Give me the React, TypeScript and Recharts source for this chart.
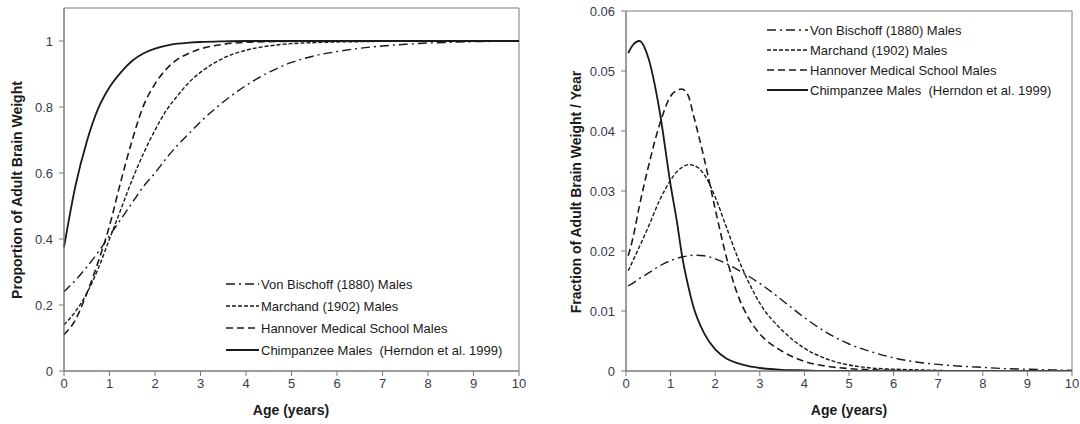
import React from "react";
import { LineChart, Line, XAxis, YAxis, ReferenceArea, Legend } from "recharts";

// ---------- Left chart: cumulative proportion of adult brain weight ----------
const agesLeft = [0, 0.25, 0.5, 0.75, 1, 1.25, 1.5, 1.75, 2, 2.25, 2.5, 2.75, 3, 3.5, 4, 4.5, 5, 5.5, 6, 6.5, 7, 7.5, 8, 8.5, 9, 9.5, 10];
const vonBischoffLeft = [0.24, 0.275, 0.315, 0.36, 0.41, 0.46, 0.51, 0.56, 0.6, 0.645, 0.685, 0.72, 0.755, 0.815, 0.865, 0.905, 0.935, 0.955, 0.968, 0.978, 0.985, 0.99, 0.994, 0.996, 0.998, 0.999, 1.0];
const marchandLeft = [0.14, 0.18, 0.235, 0.31, 0.4, 0.49, 0.58, 0.66, 0.73, 0.79, 0.835, 0.875, 0.905, 0.948, 0.972, 0.985, 0.992, 0.995, 0.997, 0.998, 0.999, 1, 1, 1, 1, 1, 1];
const hannoverLeft = [0.11, 0.155, 0.235, 0.33, 0.44, 0.575, 0.7, 0.805, 0.87, 0.915, 0.945, 0.963, 0.976, 0.99, 0.996, 0.998, 0.999, 1, 1, 1, 1, 1, 1, 1, 1, 1, 1];
const chimpLeft = [0.375, 0.56, 0.695, 0.795, 0.86, 0.905, 0.94, 0.963, 0.977, 0.986, 0.992, 0.995, 0.997, 0.999, 1, 1, 1, 1, 1, 1, 1, 1, 1, 1, 1, 1, 1];

// ---------- Right chart: fraction of adult brain weight per year ----------
const agesRight = [0.05, 0.15, 0.3, 0.5, 0.75, 1, 1.15, 1.25, 1.4, 1.5, 1.75, 2, 2.25, 2.5, 2.75, 3, 3.5, 4, 4.5, 5, 5.5, 6, 6.5, 7, 7.5, 8, 8.5, 9, 9.5, 10];
const vonBischoffRight = [0.0142, 0.0146, 0.0154, 0.0163, 0.0175, 0.0184, 0.0188, 0.019, 0.0192, 0.0193, 0.0192, 0.0187, 0.0179, 0.0169, 0.0158, 0.0146, 0.0118, 0.0089, 0.0064, 0.0045, 0.0032, 0.0022, 0.0015, 0.0011, 0.0008, 0.0006, 0.0004, 0.0003, 0.0002, 0.0001];
const marchandRight = [0.0167, 0.0183, 0.0207, 0.024, 0.0284, 0.0318, 0.0333, 0.0339, 0.0344, 0.0343, 0.0328, 0.029, 0.024, 0.019, 0.0148, 0.0113, 0.0068, 0.0038, 0.002, 0.001, 0.0005, 0.0003, 0.0002, 0.0001, 0, 0, 0, 0, 0, 0];
const hannoverRight = [0.0192, 0.022, 0.0275, 0.034, 0.041, 0.0458, 0.0468, 0.047, 0.0458, 0.043, 0.0355, 0.027, 0.019, 0.0128, 0.0088, 0.0062, 0.0033, 0.0016, 0.0008, 0.0004, 0.0002, 0.0001, 0, 0, 0, 0, 0, 0, 0, 0];
const chimpRight = [0.053, 0.0543, 0.055, 0.0522, 0.0435, 0.031, 0.0245, 0.0195, 0.014, 0.011, 0.0063, 0.0036, 0.0021, 0.0013, 0.0008, 0.0005, 0.0002, 0.0001, 0, 0, 0, 0, 0, 0, 0, 0, 0, 0, 0, 0];

const xTicks = [0, 1, 2, 3, 4, 5, 6, 7, 8, 9, 10];
const yTicksLeft = [0, 0.2, 0.4, 0.6, 0.8, 1];
const yTicksRight = [0, 0.01, 0.02, 0.03, 0.04, 0.05, 0.06];

const seriesNames = [
  "Von Bischoff (1880) Males",
  "Marchand (1902) Males",
  "Hannover Medical School Males",
  "Chimpanzee Males  (Herndon et al. 1999)",
];
const seriesKeys = ["vonBischoff", "marchand", "hannover", "chimp"];
const seriesDash = ["9 4 2 4", "4 2", "7 4", ""];
const seriesWidth = [1.4, 1.4, 1.6, 1.8];

const leftData = agesLeft.map((a, i) => ({
  age: a,
  vonBischoff: vonBischoffLeft[i],
  marchand: marchandLeft[i],
  hannover: hannoverLeft[i],
  chimp: chimpLeft[i],
}));
const rightData = agesRight.map((a, i) => ({
  age: a,
  vonBischoff: vonBischoffRight[i],
  marchand: marchandRight[i],
  hannover: hannoverRight[i],
  chimp: chimpRight[i],
}));

const FONT = '"Liberation Sans", Arial, sans-serif';
const AXIS = "#7a7a7a";
const INK = "#1a1a1a";
const tickStyle = { fontSize: 13, fill: "#3a3a4a", fontFamily: FONT };

function makeLegend(lineLen: number, rowGap: number) {
  return () => (
    <svg width={320} height={rowGap * 4} style={{ display: "block", overflow: "visible" }}>
      {seriesNames.map((n, i) => {
        const y = rowGap * i + rowGap / 2;
        return (
          <g key={n}>
            <line x1={0} x2={lineLen} y1={y} y2={y} stroke={INK} strokeWidth={seriesWidth[i]} strokeDasharray={seriesDash[i] || undefined} />
            <text x={lineLen + 2} y={y} dominantBaseline="central" fontSize={13} fill={INK} fontFamily={FONT} style={{ whiteSpace: "pre" }}>
              {n}
            </text>
          </g>
        );
      })}
    </svg>
  );
}

const titleStyle: React.CSSProperties = {
  position: "absolute",
  fontFamily: FONT,
  fontWeight: "bold",
  fontSize: 14,
  color: INK,
  whiteSpace: "nowrap",
  lineHeight: "16px",
};

export default function App() {
  const renderLines = (prefix: string) =>
    seriesKeys.map((k, i) => (
      <Line
        key={prefix + k}
        dataKey={k}
        name={seriesNames[i]}
        type="monotone"
        stroke={INK}
        strokeWidth={seriesWidth[i]}
        strokeDasharray={seriesDash[i] || undefined}
        dot={false}
        activeDot={false}
        isAnimationActive={false}
      />
    ));

  return (
    <div style={{ position: "absolute", left: 0, top: 0, width: 1080, height: 424, background: "#fff", fontFamily: FONT }}>
      <div style={{ position: "absolute", left: 0, top: 0 }}>
        <LineChart width={540} height={424} data={leftData} margin={{ top: 8, right: 21, bottom: 23, left: 10 }}>
          <XAxis dataKey="age" type="number" domain={[0, 10]} ticks={xTicks} height={30} stroke={AXIS} tickSize={5} tickMargin={3} tick={tickStyle} />
          <YAxis type="number" domain={[0, 1.1]} ticks={yTicksLeft} width={54} stroke={AXIS} tickSize={5} tickMargin={6} tick={tickStyle} allowDataOverflow />
          <ReferenceArea x1={0} x2={10} y1={0} y2={1.1} fill="none" stroke={AXIS} strokeWidth={1} ifOverflow="visible" />
          {renderLines("l")}
          <Legend
            layout="vertical"
            align="center"
            verticalAlign="middle"
            content={makeLegend(33, 22)}
            wrapperStyle={{ position: "absolute", left: 226, top: 273, width: 320, height: 88 }}
          />
        </LineChart>
      </div>
      <div style={{ position: "absolute", left: 540, top: 0 }}>
        <LineChart width={540} height={424} data={rightData} margin={{ top: 11, right: 8, bottom: 23, left: 32 }}>
          <XAxis dataKey="age" type="number" domain={[0, 10]} ticks={xTicks} height={30} stroke={AXIS} tickSize={5} tickMargin={3} tick={tickStyle} />
          <YAxis type="number" domain={[0, 0.06]} ticks={yTicksRight} width={54} stroke={AXIS} tickSize={5} tickMargin={6} tick={tickStyle} allowDataOverflow />
          <ReferenceArea x1={0} x2={10} y1={0} y2={0.06} fill="none" stroke={AXIS} strokeWidth={1} ifOverflow="visible" />
          {renderLines("r")}
          <Legend
            layout="vertical"
            align="center"
            verticalAlign="middle"
            content={makeLegend(41, 20)}
            wrapperStyle={{ position: "absolute", left: 227, top: 20, width: 320, height: 80 }}
          />
        </LineChart>
      </div>
      <div style={{ ...titleStyle, left: 17, top: 190, transform: "translate(-50%, -50%) rotate(-90deg)" }}>Proportion of Adult Brain Weight</div>
      <div style={{ ...titleStyle, left: 576, top: 192, transform: "translate(-50%, -50%) rotate(-90deg)" }}>Fraction of Adult Brain Weight / Year</div>
      <div style={{ ...titleStyle, left: 291, top: 410, transform: "translate(-50%, -50%)" }}>Age (years)</div>
      <div style={{ ...titleStyle, left: 849, top: 410, transform: "translate(-50%, -50%)" }}>Age (years)</div>
    </div>
  );
}
